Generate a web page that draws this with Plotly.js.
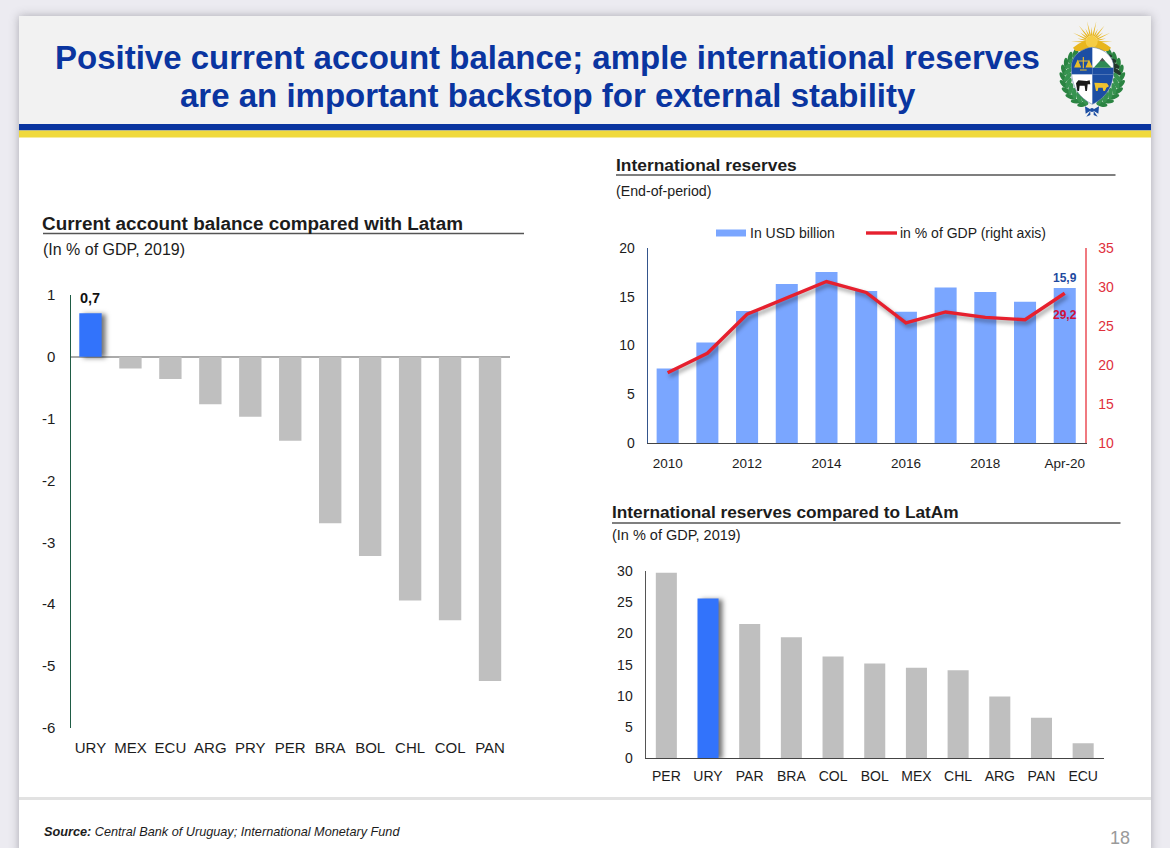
<!DOCTYPE html>
<html><head><meta charset="utf-8">
<script src="https://cdn.plot.ly/plotly-3.0.1.min.js"></script>
<style>
html,body{margin:0;padding:0;width:1170px;height:848px;overflow:hidden;background:#ecebf1}
#slide{position:absolute;left:19px;top:16px;width:1132px;height:840px;background:#fff;box-shadow:0 0 9px rgba(90,90,100,.45)}
#plot{position:absolute;left:0;top:0;width:1170px;height:848px}
</style></head><body>
<div id="slide"></div><div id="plot"></div>
<script>
// ---- data ----
const balanceCountries = ['URY','MEX','ECU','ARG','PRY','PER','BRA','BOL','CHL','COL','PAN'];
const balanceValues = [0.7,-0.19,-0.36,-0.77,-0.97,-1.36,-2.69,-3.22,-3.94,-4.26,-5.24];
const balanceTickVals = [1,0,-1,-2,-3,-4,-5,-6];
const balanceTickText = ['1','0','-1','-2','-3','-4','-5','-6'];

const reservePeriods = ['2010','2011','2012','2013','2014','2015','2016','2017','2018','2019','Apr-20'];
const reserveTickVals = ['2010','2012','2014','2016','2018','Apr-20'];
const reservesUsd = [7.65,10.3,13.55,16.3,17.55,15.6,13.45,15.95,15.5,14.5,15.9];
const reservesGdp = [19.0,21.5,26.5,28.6,30.7,29.3,25.4,26.8,26.1,25.8,29.2];

const latamCountries = ['PER','URY','PAR','BRA','COL','BOL','MEX','CHL','ARG','PAN','ECU'];
const latamValues = [29.7,25.6,21.5,19.4,16.3,15.2,14.5,14.1,9.9,6.5,2.4];

// ---- styling ----
const W=1170,H=848;
const FONT='"Liberation Sans", Arial, sans-serif';
const GREY='#bfbfbf', BLUE='#3273fb', LIGHTBLUE='#7aa6ff', RED='#e6202e', INK='#1c1c1c';
const px=x=>x/W, py=y=>1-y/H;
const dec=v=>String(v).replace('.',',');
const hl=(cats,name)=>cats.map(c=>c===name?BLUE:GREY);

const traces=[
 {type:'bar',x:balanceCountries,y:balanceValues,xaxis:'x',yaxis:'y',width:0.56,showlegend:false,
  marker:{color:hl(balanceCountries,'URY')},hoverinfo:'x+y'},
 {type:'bar',name:'In USD billion',x:reservePeriods,y:reservesUsd,xaxis:'x2',yaxis:'y2',width:0.555,
  marker:{color:LIGHTBLUE},showlegend:false},
 {type:'scatter',mode:'lines',name:'in % of GDP (right axis)',x:reservePeriods,y:reservesGdp,xaxis:'x2',yaxis:'y3',
  line:{color:RED,width:3.4},showlegend:false},
 {type:'bar',x:latamCountries,y:latamValues,xaxis:'x3',yaxis:'y4',width:0.505,showlegend:false,
  marker:{color:hl(latamCountries,'URY')}}
];

const txt=(text,x,y,size,opt={})=>Object.assign({text,xref:'paper',yref:'paper',x:px(x-2),y:py(y),
  xanchor:'left',yanchor:'middle',showarrow:false,font:{family:FONT,size,color:INK}},opt);
const TITLE={family:FONT,size:33,color:'#0a35a0'};

const annotations=[
 Object.assign(txt('<b>Positive current account balance; ample international reserves</b>',549.5,57,33),{xanchor:'center',font:TITLE}),
 Object.assign(txt('<b>are an important backstop for external stability</b>',550,96,33),{xanchor:'center',font:TITLE}),
 txt('<b>Current account balance compared with Latam</b>',42,223,18.9),
 txt('(In % of GDP, 2019)',43,250,16),
 txt('<b>International reserves</b>',616,165,17.4),
 txt('(End-of-period)',616,191,14.2),
 txt('<b>International reserves compared to LatAm</b>',612,512,17.3),
 txt('(In % of GDP, 2019)',612,535,14.5),
 txt('In USD billion',750,233,14),
 txt('in % of GDP (right axis)',900,233,14),
 txt('<b><i>Source:</i></b> <i>Central Bank of Uruguay; International Monetary Fund</i>',44,832,12.7),
 txt('18',1110,838,18,{font:{family:FONT,size:18,color:'#9a9a9a'}}),
 {text:'<b>'+dec(balanceValues[0])+'</b>',xref:'x',yref:'y',x:balanceCountries[0],y:balanceValues[0],yanchor:'bottom',yshift:5,showarrow:false,
  font:{family:FONT,size:14.5,color:'#111'}},
 {text:'<b>'+dec(reservesUsd[10])+'</b>',xref:'x2',yref:'y2',x:reservePeriods[10],y:reservesUsd[10],yanchor:'bottom',yshift:1,showarrow:false,
  font:{family:FONT,size:12,color:'#1f4aa0'}},
 {text:'<b>'+dec(reservesGdp[10])+'</b>',xref:'x2',yref:'y3',x:reservePeriods[10],y:reservesGdp[10],yanchor:'top',yshift:-13,showarrow:false,
  font:{family:FONT,size:12,color:'#d0103a'}}
];

const rect=(x0,y0,x1,y1,color,layer='below')=>({type:'rect',xref:'paper',yref:'paper',x0:px(x0),x1:px(x1),y0:py(y0),y1:py(y1),
  fillcolor:color,line:{width:0},layer});
const rule=(x0,x1,y,color,w)=>({type:'line',xref:'paper',yref:'paper',x0:px(x0),x1:px(x1),y0:py(y),y1:py(y),
  line:{color,width:w},layer:'below'});
const shapes=[
 rect(19,16,1151,124,'#f2f2f2'),
 rect(19,124,1151,130.5,'#0a35a0'),
 rect(19,130.5,1151,137.5,'#f0d93c'),
 rect(19,797,1151,800,'#e2e2e2'),
 rule(43,524,233.5,'#555',1.4),
 rule(616,1115.5,175,'#555',1.4),
 rule(612,1120.5,523,'#555',1.4),
 rect(716,229.5,746,236.5,LIGHTBLUE),
 rule(866,897,233,RED,3.4)
];

// ---- emblem (decoration) ----
function emblem(){
 let s='<svg xmlns="http://www.w3.org/2000/svg" viewBox="0 0 285 330" width="285" height="330">';
 const shield='M142 97C112 100 86 118 80 146C76 192 86 240 142 268C198 240 209 192 205 146C199 118 172 100 142 97Z';
 s+=`<defs><clipPath id="c"><path d="${shield}"/></clipPath></defs>`;
 const cx=142,cy=185;
 const leaf=(a,r,rot,c)=>{const x=cx+r*Math.cos(a),y=cy+r*Math.sin(a);
   return `<ellipse cx="${x.toFixed(1)}" cy="${y.toFixed(1)}" rx="17" ry="7" fill="${c}" transform="rotate(${rot.toFixed(0)} ${x.toFixed(1)} ${y.toFixed(1)})"/>`;};
 for(let d=-55;d<=72;d+=14){
   const a=d*Math.PI/180;
   s+=leaf(Math.PI-a,88,-d+60,'#2b8442'); s+=leaf(Math.PI-a,74,-d-50,'#379350');
   s+=leaf(a,88,d-60,'#2b8442'); s+=leaf(a,74,d+50,d<-10?'#22382a':'#379350');
 }
 for(let i=0;i<=14;i++){
   const a=Math.PI+i*Math.PI/14, r=i%2?44:62;
   const sa=a-0.13, ea=a+0.13;
   s+=`<polygon fill="#e8b61e" points="${(140+18*Math.cos(sa)).toFixed(1)},${(80+18*Math.sin(sa)).toFixed(1)} ${(140+r*Math.cos(a)).toFixed(1)},${(80+r*Math.sin(a)).toFixed(1)} ${(140+18*Math.cos(ea)).toFixed(1)},${(80+18*Math.sin(ea)).toFixed(1)}"/>`;
 }
 s+='<path d="M84 98 Q140 50 198 98 L190 108 L92 108Z" fill="#e8b61e"/><circle cx="140" cy="80" r="18" fill="#f5cd45"/>';
 s+=`<path d="${shield}" fill="#fff"/>`;
 s+='<g clip-path="url(#c)"><rect x="70" y="90" width="72" height="88" fill="#1c4ea3"/><rect x="142" y="178" width="70" height="95" fill="#1c4ea3"/>';
 s+='<rect x="142" y="158" width="70" height="20" fill="#1c4ea3"/><polygon points="146,158 172,130 200,158" fill="#2f8a55"/><polygon points="164,139 172,128 180,139" fill="#555"/>';
 s+='<path d="M115 126V160M98 138H132M98 138L90 156H106ZM132 138L124 156H140ZM105 165H125" stroke="#e9bd2b" stroke-width="3.5" fill="#e9bd2b"/>';
 s+='<path d="M93 205L100 196L125 198L134 196L136 208L128 208L126 228L121 228L119 212L104 212L102 228L97 228Z" fill="#1a1a1a"/>';
 s+='<path d="M148 203L186 205L192 214L184 218L180 228L175 228L173 218L160 218L158 228L153 228Z" fill="#eec22f"/></g>';
 s+=`<path d="${shield}" fill="none" stroke="#4a6a9a" stroke-width="1.5"/>`;
 s+='<path d="M140 285L120 274L122 296ZM142 285L162 274L160 296ZM136 288L124 305L136 300ZM146 288L158 305L146 300Z" fill="#1c4ea3"/><circle cx="141" cy="285" r="6" fill="#1c4ea3"/>';
 return 'data:image/svg+xml;charset=utf-8,'+encodeURIComponent(s+'</svg>');
}

const catAxis=(x0,x1,size,anchor,extra)=>Object.assign({domain:[px(x0),px(x1)],anchor,type:'category',range:[-0.5,10.5],
  showgrid:false,zeroline:false,ticks:'',showline:false,tickfont:{family:FONT,size,color:INK},fixedrange:true},extra);
const valAxis=(y0,y1,size,anchor,extra)=>Object.assign({domain:[py(y1),py(y0)],anchor,showgrid:false,zeroline:false,ticks:'',
  showline:true,tickfont:{family:FONT,size,color:INK},fixedrange:true},extra);

const layout={
 width:W,height:H,margin:{l:0,r:0,t:0,b:0},paper_bgcolor:'rgba(0,0,0,0)',plot_bgcolor:'rgba(0,0,0,0)',
 font:{family:FONT},bargap:0.45,showlegend:false,
 xaxis:catAxis(70.5,510,15,'y',{ticklabelstandoff:9}),
 yaxis:valAxis(294.8,728,15,'x',{range:[-6,1],tickmode:'array',tickvals:balanceTickVals,ticktext:balanceTickText,
   linecolor:'#1f5c45',linewidth:1.3,zeroline:true,zerolinecolor:'#aaaaaa',zerolinewidth:1.5,ticklabelstandoff:11}),
 xaxis2:catAxis(647.8,1084.6,13.5,'y2',{tickmode:'array',tickvals:reserveTickVals,ticktext:reserveTickVals,
   showline:true,linecolor:'#444',linewidth:1.2,ticklabelstandoff:8}),
 yaxis2:valAxis(248,443,14,'x2',{range:[0,20],tickvals:[0,5,10,15,20],tickmode:'array',linecolor:'#34558c',linewidth:1.2,ticklabelstandoff:9}),
 yaxis3:valAxis(248,443,14,'x2',{range:[10,35],tickvals:[10,15,20,25,30,35],tickmode:'array',overlaying:'y2',side:'right',
   linecolor:'#f07a80',linewidth:1.5,tickfont:{family:FONT,size:14,color:'#e0303c'},ticklabelstandoff:9}),
 xaxis3:catAxis(645.5,1104,14,'y4',{showline:true,linecolor:'#444',linewidth:1.2,ticklabelstandoff:5}),
 yaxis4:valAxis(571,758.3,14,'x3',{range:[0,30],tickvals:[0,5,10,15,20,25,30],tickmode:'array',linecolor:'#555',linewidth:1,ticklabelstandoff:9}),
 annotations,shapes,
 images:[{source:emblem(),xref:'paper',yref:'paper',x:px(1045),y:py(15),sizex:95/W,sizey:110/H,sizing:'stretch',xanchor:'left',yanchor:'top',layer:'above'}]
};

Plotly.newPlot('plot',traces,layout,{displayModeBar:false}).then(()=>{
 document.querySelectorAll('.barlayer .point path').forEach(p=>{
   if(p.style.fill.replace(/\s/g,'')==='rgb(50,115,251)') p.style.filter='drop-shadow(4px 1px 2.5px rgba(0,0,0,.55))';
 });
 document.querySelectorAll('.scatterlayer .js-line').forEach(p=>{p.style.filter='drop-shadow(2px 3px 2px rgba(0,0,0,.4))';});
});
</script></body></html>
